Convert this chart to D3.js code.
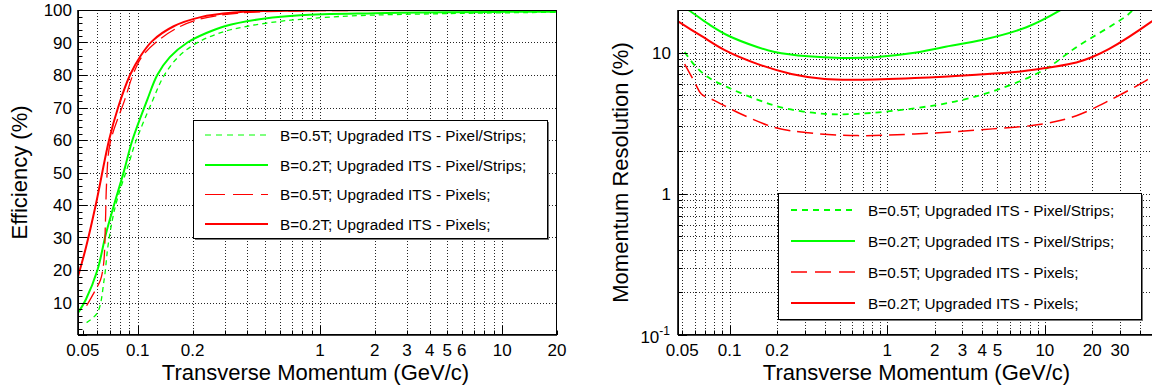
<!DOCTYPE html>
<html><head><meta charset="utf-8">
<script src="https://cdn.jsdelivr.net/npm/d3@7"></script>
<style>
body{margin:0;background:#fff}
svg{display:block}
text{font-family:"Liberation Sans",Arial,Helvetica,sans-serif;fill:#000}
</style>
</head><body>
<svg id="c" width="1152" height="392"></svg>
<script>
// ---------- data ----------
const legendLabels = [
  "B=0.5T; Upgraded ITS - Pixel/Strips;",
  "B=0.2T; Upgraded ITS - Pixel/Strips;",
  "B=0.5T; Upgraded ITS - Pixels;",
  "B=0.2T; Upgraded ITS - Pixels;"
];
// Efficiency (%) vs pT (GeV/c)
const effPixStrips05 = [[0.0524,3.8],[0.0601,6.9],[0.0654,17],[0.0685,27],[0.0726,35.5],[0.0774,42],[0.0896,53],[0.0975,59.5],[0.1204,72],[0.14,80],[0.17,86],[0.2215,90.5],[0.3,93.4],[0.4,95],[0.6,96.5],[0.85,97.3],[1.5,98.2],[5,98.9],[20,99.3]];
const effPixStrips02 = [[0.047,6.8],[0.052,11],[0.0601,20],[0.0668,31],[0.0741,40],[0.0841,50.5],[0.0935,60],[0.113,72.5],[0.128,80],[0.15,85.5],[0.1874,90],[0.24,93],[0.3,95],[0.5,97.4],[0.78,98.4],[2,99],[5,99.3],[20,99.5]];
const effPixels05 = [[0.0524,9],[0.0588,14],[0.0625,17],[0.065,22],[0.0665,35],[0.0675,47],[0.0705,59],[0.085,72.5],[0.094,80],[0.105,85.5],[0.1255,90],[0.165,94.5],[0.22,97.2],[0.35,99],[0.6,99.6],[1,99.8],[20,100]];
const effPixels02 = [[0.047,18],[0.052,27],[0.0588,40],[0.0696,60],[0.078,70],[0.0907,80],[0.104,86],[0.1204,90.5],[0.1576,95],[0.2215,97.8],[0.336,99.2],[0.515,99.7],[1,99.9],[20,100]];
// Momentum resolution (%) vs pT (GeV/c)
const resPixStrips05 = [[0.0518,10.1],[0.06,8.1],[0.0728,6.7],[0.0975,5.66],[0.151,4.62],[0.223,4.03],[0.4,3.68],[0.65,3.68],[1.49,4.03],[2.88,4.57],[5.18,5.53],[9.8,7.5],[15.85,10.9],[33,18.2],[37,20.5]];
const resPixStrips02 = [[0.047,21.5],[0.0545,20],[0.0728,16],[0.0975,13.2],[0.151,10.9],[0.193,10.1],[0.314,9.4],[0.511,9.15],[0.83,9.25],[1.49,9.95],[2.26,10.9],[4.05,12.3],[7.64,15.1],[12.4,19.8],[13,20.5]];
const resPixels05 = [[0.0518,8.28],[0.06,6.15],[0.0661,5.09],[0.0803,4.57],[0.118,3.67],[0.193,2.95],[0.314,2.7],[0.65,2.58],[1.49,2.65],[4.67,2.88],[9.8,3.12],[15.85,3.57],[25.6,4.57],[47,6.67],[50,7.1]];
const resPixels02 = [[0.047,16.6],[0.0661,13.1],[0.093,10.4],[0.151,8.28],[0.246,7.05],[0.4,6.5],[0.65,6.42],[1.49,6.6],[3.67,6.97],[7,7.35],[11.2,7.9],[15.85,8.5],[20,9.3],[25.6,10.6],[47,16.4],[50,17.3]];
// tick labels
const effXTickLabels = [0.05,0.1,0.2,1,2,3,4,5,6,10,20];
const resXTickLabels = [0.05,0.1,0.2,1,2,3,4,5,10,20,30];
const effYTickLabels = [10,20,30,40,50,60,70,80,90,100];
const resYTickLabels = [0.1,1,10];
const xTitle = "Transverse Momentum (GeV/c)";
const effYTitle = "Efficiency (%)";
const resYTitle = "Momentum Resolution (%)";

// ---------- styles ----------
const styleL = [
  {color:"#00ff00", width:1.3, dash:"5,4", legDash:"6,5", legW:1},
  {color:"#00ff00", width:2, dash:null, legDash:null, legW:2},
  {color:"#ff0000", width:1.3, dash:"16,6", legDash:"20,8", legW:1},
  {color:"#ff0000", width:2, dash:null, legDash:null, legW:2}
];
const styleR = [
  {color:"#00ff00", width:1.8, dash:"6,5", legDash:"6,5", legW:2},
  {color:"#00ff00", width:2, dash:null, legDash:null, legW:2},
  {color:"#ff0000", width:1.5, dash:"16,7", legDash:"16,8", legW:1.5},
  {color:"#ff0000", width:2, dash:null, legDash:null, legW:2}
];

const svg = d3.select("#c");

function logTicks(lo, hi){
  const out=[];
  for(let e=-3;e<=3;e++) for(let m=1;m<=9;m++){
    const v=+(m*Math.pow(10,e)).toPrecision(6);
    if(v>=lo-1e-9 && v<=hi+1e-9) out.push(v);
  }
  return out;
}
const isDecade = v => Math.abs(Math.log10(v)-Math.round(Math.log10(v)))<1e-6;

function drawPanel(o){
  const {x,y,id} = o;
  const [x0,x1]=x.range(), [yb,yt]=y.range();
  const g = svg.append("g");
  g.append("clipPath").attr("id",id).append("rect")
    .attr("x",x0).attr("y",yt).attr("width",x1-x0).attr("height",yb-yt);

  // grid
  const grid = g.append("g").attr("stroke","#000").attr("stroke-width",1).attr("stroke-dasharray","1,2").attr("opacity",0.85);
  o.xGrid.forEach(v=>{
    const px=Math.round(x(v))+0.5;
    grid.append("line").attr("x1",px).attr("x2",px).attr("y1",yt).attr("y2",yb);
  });
  o.yGrid.forEach(v=>{
    const py=Math.round(y(v))+0.5;
    grid.append("line").attr("x1",x0).attr("x2",x1).attr("y1",py).attr("y2",py);
  });

  // curves
  const line = d3.line().x(d=>x(d[0])).y(d=>y(d[1])).curve(d3.curveCatmullRom.alpha(0.5));
  const cg = g.append("g").attr("clip-path",`url(#${id})`);
  o.series.forEach((s,i)=>{
    const st=o.styles[i];
    cg.append("path").attr("d",line(s)).attr("fill","none")
      .attr("stroke",st.color).attr("stroke-width",st.width)
      .attr("stroke-dasharray",st.dash).attr("stroke-linejoin","round");
  });

  // frame
  g.append("rect").attr("x",x0+0.5).attr("y",yt+0.5).attr("width",x1-x0-1).attr("height",yb-yt-1)
    .attr("fill","none").attr("stroke","#000").attr("stroke-width",1);
  g.append("line").attr("x1",x0).attr("x2",x1).attr("y1",yb).attr("y2",yb).attr("stroke","#000").attr("stroke-width",1.6);
  g.append("line").attr("x1",x0).attr("x2",x0).attr("y1",yt).attr("y2",yb).attr("stroke","#000").attr("stroke-width",1.6);

  // ticks
  const tk = g.append("g").attr("stroke","#000").attr("stroke-width",1);
  logTicks(x.domain()[0],x.domain()[1]).forEach(v=>{
    const px=Math.round(x(v))+0.5, L=isDecade(v)?9:4.5;
    tk.append("line").attr("x1",px).attr("x2",px).attr("y1",yb).attr("y2",yb-L);
  });
  o.yTicks.forEach(t=>{
    const py=Math.round(y(t.v))+0.5;
    tk.append("line").attr("x1",x0).attr("x2",x0+t.L).attr("y1",py).attr("y2",py);
  });

  // x labels
  o.xLabels.forEach(v=>{
    g.append("text").attr("x",x(v)).attr("y",356).attr("text-anchor","middle")
      .attr("font-size",17).text(String(v));
  });
  // x title
  g.append("text").attr("x",(x0+Math.min(x1,o.titleRight))/2 + o.titleShift).attr("y",380).attr("text-anchor","middle")
    .attr("font-size",22).text(xTitle);
  // y title
  g.append("text").attr("transform",`translate(${o.yTitleX},${(yb+yt)/2}) rotate(-90)`)
    .attr("text-anchor","middle").attr("font-size",22).text(o.yTitle);

  // legend
  const L=o.legend;
  g.append("rect").attr("x",L.x+2).attr("y",L.y+2).attr("width",L.w).attr("height",L.h).attr("fill","#777");
  g.append("rect").attr("x",L.x+0.5).attr("y",L.y+0.5).attr("width",L.w).attr("height",L.h)
    .attr("fill","#fff").attr("stroke","#000").attr("stroke-width",1);
  legendLabels.forEach((lab,i)=>{
    const st=o.styles[i], yy=L.rows[i];
    g.append("line").attr("x1",L.s0).attr("x2",L.s1).attr("y1",yy).attr("y2",yy)
      .attr("stroke",st.color).attr("stroke-width",st.legW).attr("stroke-dasharray",st.legDash);
    g.append("text").attr("x",L.tx).attr("y",yy).attr("dy","0.36em").attr("font-size",15.3).text(lab);
  });
  return g;
}

// ---------- left panel ----------
const xL = d3.scaleLog().domain([0.047,20]).range([78,557]);
const yL = d3.scaleLinear().domain([0,100]).range([335,10]);
const gL = drawPanel({
  id:"clipL", x:xL, y:yL,
  xGrid: logTicks(0.06,10),
  yGrid: d3.range(10,100,10),
  yTicks: d3.range(0,101,2).map(v=>({v, L: v%10===0?9:4.5})),
  series:[effPixStrips05,effPixStrips02,effPixels05,effPixels02],
  styles:styleL,
  xLabels:effXTickLabels,
  titleRight:557, titleShift:-2,
  yTitle:effYTitle, yTitleX:27,
  legend:{x:193,y:120,w:354,h:118,rows:[135,165,194.5,224],s0:205,s1:268,tx:280}
});
effYTickLabels.forEach(v=>{
  gL.append("text").attr("x",72).attr("y",yL(v)).attr("dy","0.36em").attr("text-anchor","end")
    .attr("font-size",17).text(String(v));
});

// ---------- right panel ----------
const xR = d3.scaleLog().domain([0.047,50]).range([678,1155]);
const yR = d3.scaleLog().domain([0.1,20]).range([335,10]);
const gR = drawPanel({
  id:"clipR", x:xR, y:yR,
  xGrid: logTicks(0.05,40),
  yGrid: logTicks(0.2,10),
  yTicks: logTicks(0.1,20).map(v=>({v, L:isDecade(v)?9:4.5})),
  series:[resPixStrips05,resPixStrips02,resPixels05,resPixels02],
  styles:styleR,
  xLabels:resXTickLabels,
  titleRight:1155, titleShift:0,
  yTitle:resYTitle, yTitleX:628,
  legend:{x:778,y:193,w:363,h:126,rows:[210,241,272,303],s0:791,s1:855,tx:868}
});
resYTickLabels.forEach(v=>{
  if(v===0.1){
    const t=gR.append("text").attr("x",670).attr("y",yR(v)+8).attr("text-anchor","end").attr("font-size",17);
    t.append("tspan").text("10");
    t.append("tspan").attr("dy",-8).attr("font-size",12).text("-1");
  } else {
    gR.append("text").attr("x",671).attr("y",yR(v)).attr("dy","0.36em").attr("text-anchor","end")
      .attr("font-size",17).text(String(v));
  }
});
</script>
</body></html>
